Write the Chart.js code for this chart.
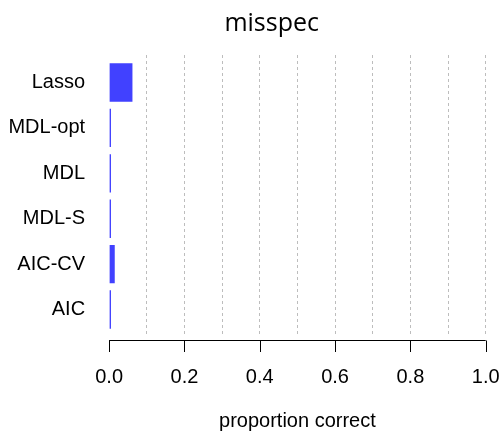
<!DOCTYPE html>
<html>
<head>
<meta charset="utf-8">
<script src="https://cdn.jsdelivr.net/npm/chart.js@4"></script>
<style>
  html, body { margin: 0; padding: 0; background: #fff; }
  #wrap { width: 500px; height: 436px; }
</style>
</head>
<body>
<div id="wrap"><canvas id="barChart"></canvas></div>
<script>
Chart.defaults.font.family = "'Liberation Sans', Arial, sans-serif";
Chart.defaults.color = "#000";

// methods listed top to bottom
const methods = ["Lasso", "MDL-opt", "MDL", "MDL-S", "AIC-CV", "AIC"];
const proportions = [0.062, 0.005, 0.005, 0.005, 0.015, 0.005];
const xTickLabels = [0, 0.2, 0.4, 0.6, 0.8, 1.0];

// axis line with tick marks, drawn a few pixels below the plot area
const bottomAxis = {
  id: "bottomAxis",
  afterLayout(chart) {
    // centre the title a bit to the right, over the labels + plot
    if (chart.titleBlock) chart.titleBlock.left = 57.7;
  },
  afterDraw(chart) {
    const x = chart.scales.x;
    const ctx = chart.ctx;
    const y = Math.round(chart.chartArea.bottom + 3) + 0.5;
    ctx.save();
    ctx.strokeStyle = "#000";
    ctx.lineWidth = 1;
    ctx.beginPath();
    ctx.moveTo(x.getPixelForValue(0), y);
    ctx.lineTo(x.getPixelForValue(1), y);
    xTickLabels.forEach((v) => {
      const px = Math.round(x.getPixelForValue(v)) + 0.5;
      ctx.moveTo(px, y);
      ctx.lineTo(px, y + 11.5);
    });
    ctx.stroke();
    ctx.restore();
  },
};

function initBarChart() {
  const ctx = document.getElementById("barChart");
  if (!ctx) return;

  new Chart(ctx, {
    type: "bar",
    data: {
      datasets: [
        {
          data: proportions.map((p, i) => ({ x: p, y: i })),
          backgroundColor: "#4141ff",
          borderWidth: 0,
          barPercentage: 0.845,
          categoryPercentage: 1,
        },
      ],
    },
    plugins: [bottomAxis],
    options: {
      indexAxis: "y",
      responsive: true,
      maintainAspectRatio: false,
      animation: false,
      layout: { padding: { left: 0, right: 14.3, top: 0, bottom: 0 } },
      plugins: {
        legend: { display: false },
        tooltip: { enabled: false },
        title: {
          display: true,
          text: "misspec",
          color: "#000",
          font: { family: "'Open Sans', sans-serif", size: 25, weight: "normal", lineHeight: 1 },
          padding: { top: 11, bottom: 19 },
        },
      },
      scales: {
        x: {
          type: "linear",
          min: 0,
          max: 1,
          afterFit: (scale) => {
            scale.height = 99;
            scale.paddingLeft = 0;
            scale.paddingRight = 0;
          },
          ticks: {
            stepSize: 0.1,
            padding: 28,
            font: { size: 20 },
            maxRotation: 0,
            callback: (value) =>
              xTickLabels.some((t) => Math.abs(t - value) < 1e-6) ? value.toFixed(1) : "",
          },
          grid: {
            drawTicks: false,
            color: (c) => (c.tick && Math.abs(c.tick.value) < 1e-6 ? "rgba(0,0,0,0)" : "#bdbdbd"),
          },
          border: { display: false, dash: [3, 3] },
          title: {
            display: true,
            text: "proportion correct",
            font: { size: 20, lineHeight: 1 },
            padding: { top: 0, bottom: 5 },
          },
        },
        y: {
          type: "linear",
          reverse: true,
          offset: false,
          min: -0.606,
          max: 5.605,
          afterFit: (scale) => { scale.width = 109.1; },
          afterBuildTicks: (scale) => {
            scale.ticks = methods.map((m, i) => ({ value: i }));
          },
          ticks: {
            padding: 24,
            font: { size: 20 },
            callback: (value) => methods[value],
          },
          grid: { display: false, drawTicks: false, offset: false },
          border: { display: false },
        },
      },
    },
  });
}

document.addEventListener("DOMContentLoaded", initBarChart);
</script>
</body>
</html>
